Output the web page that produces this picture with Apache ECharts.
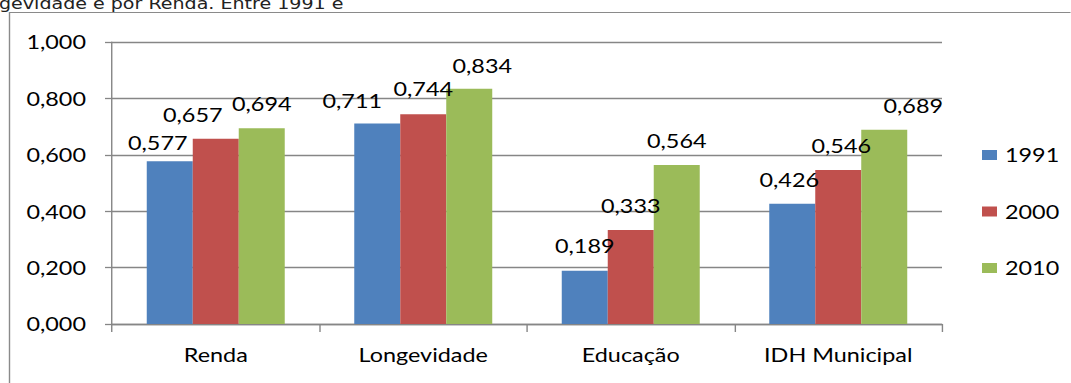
<!DOCTYPE html>
<html>
<head>
<meta charset="utf-8">
<script src="https://cdn.jsdelivr.net/npm/echarts@6/dist/echarts.min.js"></script>
<style>
  html, body { margin: 0; padding: 0; background: #fff; overflow: hidden; }
  #wrap { width: 1071px; height: 383px; overflow: hidden; }
  /* the chart is laid out narrower and widened horizontally, like the source figure */
  #chart { height: 383px; transform-origin: 0 0; }
</style>
</head>
<body>
<div id="wrap"><div id="chart"></div></div>
<script>
// IDHM components per year
const categories = ['Renda', 'Longevidade', 'Educação', 'IDH Municipal'];
const years = ['1991', '2000', '2010'];
const idh1991 = [0.577, 0.711, 0.189, 0.426];
const idh2000 = [0.657, 0.744, 0.333, 0.546];
const idh2010 = [0.694, 0.834, 0.564, 0.689];
const yTicks = [0, 0.2, 0.4, 0.6, 0.8, 1.0];

// nudges (screen px) that keep neighbouring value labels from colliding
const labelNudge = [
  [[-12, 6], [-25, 2], [0, -1], [-3, 0]],
  [[-23, 0], [0, -1], [0, 0], [3, 0]],
  [[0, 0], [13, 1], [0, 0], [29, 0]]
];

const SX = 1.17;                 // horizontal widening factor
const W = 1071 / SX;             // layout width before widening
const px = x => x / SX;          // screen x -> layout x

const el = document.getElementById('chart');
el.style.width = W + 'px';
el.style.transform = 'scaleX(' + SX + ')';

const colors = ['#4F81BD', '#C0504D', '#9BBB59'];
const FONT = 'Lato';
const FS = 20;
const fmt = v => v.toFixed(3).replace('.', ',');
const seriesValues = [idh1991, idh2000, idh2010];
const GRID = '#868686';

const chart = echarts.init(el, null, { renderer: 'svg', width: W, height: 383 });

chart.setOption({
  animation: false,
  color: colors,
  textStyle: { fontFamily: FONT },
  graphic: [
    {
      type: 'rect',
      shape: { x: px(9.5), y: 12.5, width: 1100, height: 420 },
      style: { fill: '#fff', stroke: '#8a8a8a', lineWidth: 1.2 },
      z: -10
    },
    {
      type: 'text',
      x: px(-1), y: 11,
      style: {
        text: 'gevidade e por Renda. Entre 1991 e',
        fontFamily: 'DejaVu Sans',
        fontSize: 16.3,
        fill: '#222',
        verticalAlign: 'bottom'
      }
    }
  ],
  grid: { left: px(112), right: W - px(942), top: 42, bottom: 59, containLabel: false },
  legend: {
    orient: 'vertical',
    left: px(982), top: 144,
    padding: 0,
    itemWidth: px(15), itemHeight: 10,
    itemGap: 34.5,
    icon: 'rect',
    data: years,
    textStyle: { fontFamily: FONT, fontSize: FS, color: '#000', lineHeight: 22, padding: [0, 0, 0, px(8) - 5] }
  },
  xAxis: {
    type: 'category',
    data: categories,
    axisLine: { lineStyle: { color: GRID, width: 1.3 } },
    axisTick: { show: true, length: 8, lineStyle: { color: GRID, width: 1.2 } },
    axisLabel: { fontFamily: FONT, fontSize: FS, color: '#000', margin: 21 }
  },
  yAxis: {
    type: 'value',
    min: yTicks[0], max: yTicks[yTicks.length - 1], interval: 0.2,
    axisLine: { show: true, lineStyle: { color: GRID, width: 1.2 } },
    axisTick: { show: true, length: px(7), lineStyle: { color: GRID, width: 1.3 } },
    splitLine: { lineStyle: { color: GRID, width: 1.3 } },
    axisLabel: { fontFamily: FONT, fontSize: FS, color: '#000', margin: px(26), formatter: fmt }
  },
  series: years.map((y, s) => ({
    name: y,
    type: 'bar',
    barGap: '0%',
    barCategoryGap: '33.5%',
    data: seriesValues[s].map((v, i) => ({
      value: v,
      label: { offset: [px(labelNudge[s][i][0]), labelNudge[s][i][1]] }
    })),
    itemStyle: { color: colors[s] },
    label: {
      show: true,
      position: 'top',
      distance: 14.5,
      fontFamily: FONT,
      fontSize: FS,
      color: '#000',
      formatter: p => fmt(p.value)
    }
  }))
});
</script>
</body>
</html>
